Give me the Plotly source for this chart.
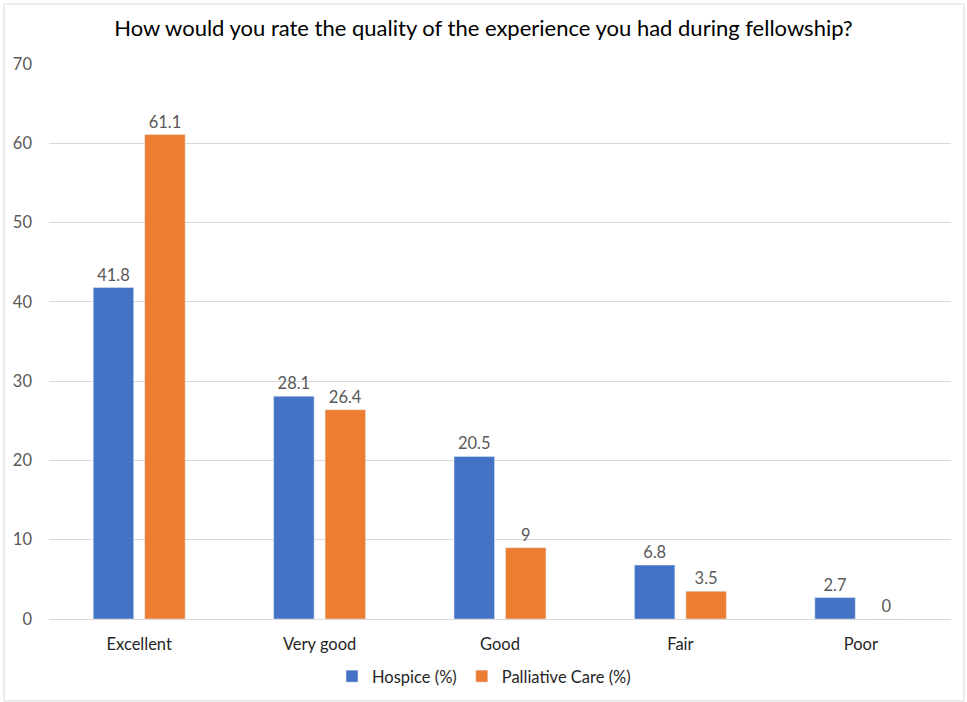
import plotly.graph_objects as go

categories = ["Excellent", "Very good", "Good", "Fair", "Poor"]
hospice = [41.8, 28.1, 20.5, 6.8, 2.7]
palliative = [61.1, 26.4, 9, 3.5, 0]
title_text = "How would you rate the quality of the experience you had during fellowship?"

BLUE = "#4472C4"
ORANGE = "#ED7D31"
GRAY = "#595959"
FONT = "Lato, Open Sans, sans-serif"
LABEL_SIZE = 16.5

fig = go.Figure()
fig.add_trace(go.Bar(
    name="Hospice (%)", x=categories, y=hospice, marker_color=BLUE,
    text=[f"{v:g}" for v in hospice], textposition="outside",
    textfont=dict(color=GRAY, size=LABEL_SIZE, family=FONT), cliponaxis=False,
))
fig.add_trace(go.Bar(
    name="Palliative Care (%)", x=categories, y=palliative, marker_color=ORANGE,
    text=[f"{v:g}" for v in palliative], textposition="outside",
    textfont=dict(color=GRAY, size=LABEL_SIZE, family=FONT), cliponaxis=False,
))

W, H = 967, 702
ml, mr, mt, mb = 49, 15.5, 63.5, 82.5
pw, ph = W - ml - mr, H - mt - mb

fig.update_layout(
    width=W, height=H,
    margin=dict(l=ml, r=mr, t=mt, b=mb, pad=0, autoexpand=False),
    paper_bgcolor="white", plot_bgcolor="white",
    barmode="group", bargap=0.4294, bargroupgap=0.2136,
    title=dict(text=title_text, x=0.5, xanchor="center", y=1 - 28 / H, yanchor="middle",
               font=dict(family=FONT, size=22, color="#000000")),
    font=dict(family=FONT),
    showlegend=True,
    legend=dict(orientation="h", x=0.5 - 16 / pw, xanchor="center",
                y=-(677 - (mt + ph)) / ph, yanchor="middle",
                font=dict(size=LABEL_SIZE, color="#262626"),
                itemwidth=30, traceorder="normal"),
    xaxis=dict(showgrid=False, showline=False, ticks="", ticklabelstandoff=13,
               automargin=False, tickfont=dict(size=LABEL_SIZE, color="#262626")),
    yaxis=dict(range=[0, 70], dtick=10, showgrid=True, gridcolor="#D9D9D9", gridwidth=1,
               zeroline=True, zerolinecolor="#D9D9D9", zerolinewidth=1,
               showline=False, ticks="", ticklabelstandoff=16, automargin=False,
               tickfont=dict(size=LABEL_SIZE, color=GRAY)),
)

# thin outer frame around the whole chart area
fig.add_shape(type="rect", xref="paper", yref="paper",
              x0=(4 - ml) / pw, x1=(964.5 - ml) / pw,
              y0=-(701.5 - (mt + ph)) / ph, y1=1 + (mt - 3.5) / ph,
              line=dict(color="#D9D9D9", width=1), fillcolor="rgba(0,0,0,0)", layer="below")

fig.write_html("out.html")
